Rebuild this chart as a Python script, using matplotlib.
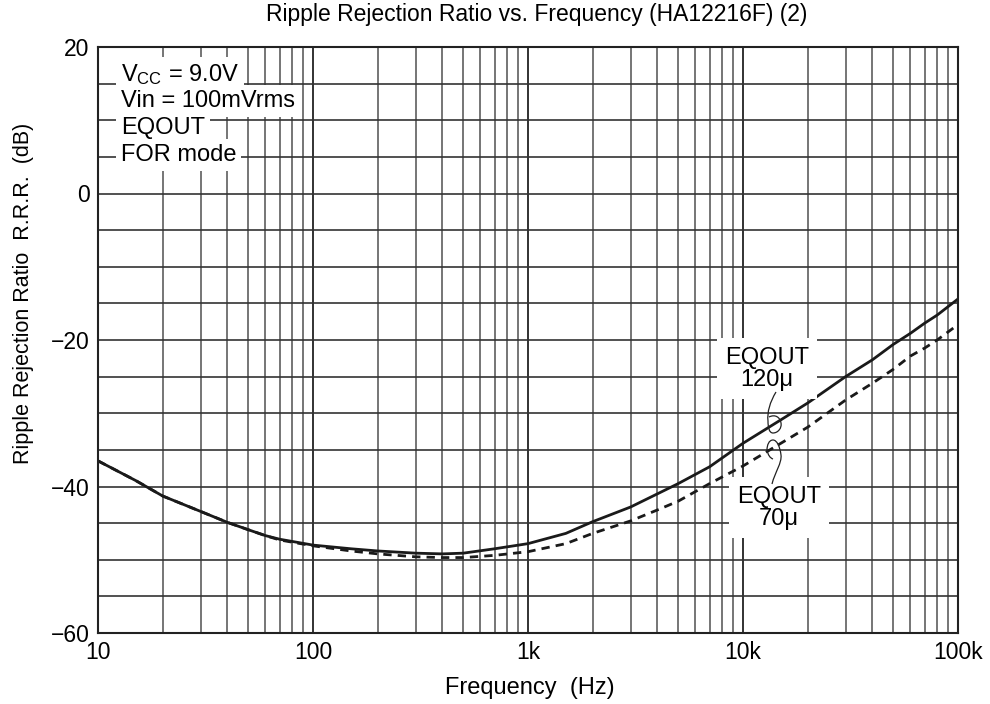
import matplotlib
matplotlib.use("Agg")
import matplotlib.pyplot as plt
from matplotlib.path import Path
from matplotlib.patches import PathPatch
from matplotlib.ticker import FixedLocator, NullFormatter

plt.rcParams['font.family'] = ['Liberation Sans', 'DejaVu Sans']
plt.rcParams['mathtext.fontset'] = 'custom'
plt.rcParams['mathtext.rm'] = 'Liberation Sans'
plt.rcParams['mathtext.it'] = 'Liberation Sans:italic'

# frequency points (Hz)
freq = [10, 15, 20, 30, 40, 50, 60, 70, 80, 100, 150, 200, 300, 400, 500, 700,
        1000, 1500, 2000, 3000, 4000, 5000, 7000, 10000,
        15000, 20000, 30000, 40000, 50000, 60000, 70000, 80000, 100000]

# EQOUT 120u (solid)
rrr_120u = [-36.5, -39.2, -41.3, -43.4, -44.9, -45.9, -46.7, -47.2, -47.5, -48.0, -48.5,
            -48.8, -49.1, -49.2, -49.1, -48.5,
            -47.8, -46.4, -44.8, -42.8, -41.0, -39.6, -37.3, -34.1,
            -30.9, -28.6, -25.0, -22.7, -20.6, -19.1, -17.7, -16.6, -14.4]

# EQOUT 70u (dashed)
rrr_70u = [-36.5, -39.2, -41.3, -43.4, -44.9, -45.9, -46.7, -47.3, -47.6, -48.1, -48.8,
           -49.2, -49.6, -49.7, -49.7, -49.4,
           -48.9, -47.8, -46.4, -44.7, -43.2, -42.0, -39.6, -37.2,
           -34.1, -31.9, -28.2, -25.9, -24.0, -22.2, -21.1, -20.0, -17.9]

x_ticks = [10, 100, 1000, 10000, 100000]
x_labels = ["10", "100", "1k", "10k", "100k"]
y_ticks = [-60, -40, -20, 0, 20]
y_labels = ["\u221260", "\u221240", "\u221220", "0", "20"]

conditions = ["V$_\\mathrm{CC}$ = 9.0V", "Vin = 100mVrms", "EQOUT", "FOR mode"]

fig = plt.figure(figsize=(9.9, 7.04), dpi=100)
ax = fig.add_axes([98 / 990, 71 / 704, 860 / 990, 586 / 704])

ax.set_xscale("log")
ax.set_xlim(10, 100000)
ax.set_ylim(-60, 20)

# grid: decades + 2..9 minor, 5 dB horizontals
minor = [m * 10 ** d for d in range(1, 5) for m in range(2, 10)]
for f in minor:
    ax.axvline(f, color="#6a6a6a", lw=1.3, zorder=1)
for f in x_ticks[1:-1]:
    ax.axvline(f, color="#222222", lw=1.3, zorder=1)
for y in range(-55, 20, 5):
    ax.axhline(y, color="#333333", lw=1.2, zorder=1)

ax.plot(freq, rrr_70u, color="#1a1a1a", lw=2.0, ls=(0, (3, 2.2)), zorder=3)
ax.plot(freq, rrr_120u, color="#1a1a1a", lw=2.0, zorder=4)

ax.set_xticks(x_ticks)
ax.set_xticklabels(x_labels)
ax.xaxis.set_minor_locator(FixedLocator(minor))
ax.xaxis.set_minor_formatter(NullFormatter())
ax.set_yticks(y_ticks)
ax.set_yticklabels(y_labels)
ax.tick_params(which="both", length=0, labelsize=16.5, pad=6)
for s in ax.spines.values():
    s.set_linewidth(1.5)
    s.set_color("#222222")
    s.set_zorder(5)

fig.text(537 / 990, 1 - 15 / 704, "Ripple Rejection Ratio vs. Frequency (HA12216F) (2)",
         ha="center", va="center", fontsize=16.5)
fig.text(530 / 990, 1 - 688 / 704, "Frequency  (Hz)", ha="center", va="center", fontsize=17)
fig.text(24 / 990, 1 - 293 / 704, "Ripple Rejection Ratio  R.R.R.  (dB)",
         ha="center", va="center", rotation=90, fontsize=15.5)

# condition block, one white box per line
box = dict(facecolor="white", edgecolor="none", pad=3.5)
for i, txt in enumerate(conditions):
    ax.text(12.75, 15.4 - 3.65 * i, txt, ha="left", va="baseline",
            fontsize=17, bbox=box, zorder=6)

# curve labels
box2 = dict(facecolor="white", edgecolor="none", pad=6)
ax.text(12900, -23.9, "EQOUT\n120\u03bc", ha="center", va="center", fontsize=17,
        linespacing=1.0, bbox=box2, zorder=6)
ax.text(14700, -42.9, "EQOUT\n70\u03bc", ha="center", va="center", multialignment="center",
        fontsize=17, linespacing=1.0, bbox=box2, zorder=6)


def ref(px, py):
    # reference-pixel position -> axes fraction
    return ((px - 98) / 860, (633 - py) / 586)


M, C = Path.MOVETO, Path.CURVE4
lead_120 = [ref(776, 392), ref(770, 402), ref(767, 412), ref(768, 421),
            ref(768, 427), ref(769, 433), ref(773, 433),
            ref(778, 433), ref(782, 428), ref(781, 423),
            ref(780, 417), ref(775, 414), ref(769, 417)]
lead_70 = [ref(772, 484), ref(775, 472), ref(782, 463), ref(781, 455),
           ref(780, 447), ref(777, 440), ref(773, 440),
           ref(769, 440), ref(767, 445), ref(767, 450),
           ref(768, 455), ref(770, 458), ref(773, 459)]
codes = [M] + [C] * 12
for verts in (lead_120, lead_70):
    ax.add_patch(PathPatch(Path(verts, codes), transform=ax.transAxes,
                           fill=False, lw=0.9, color="#222222", zorder=7))

fig.savefig("out.png", dpi=100)
